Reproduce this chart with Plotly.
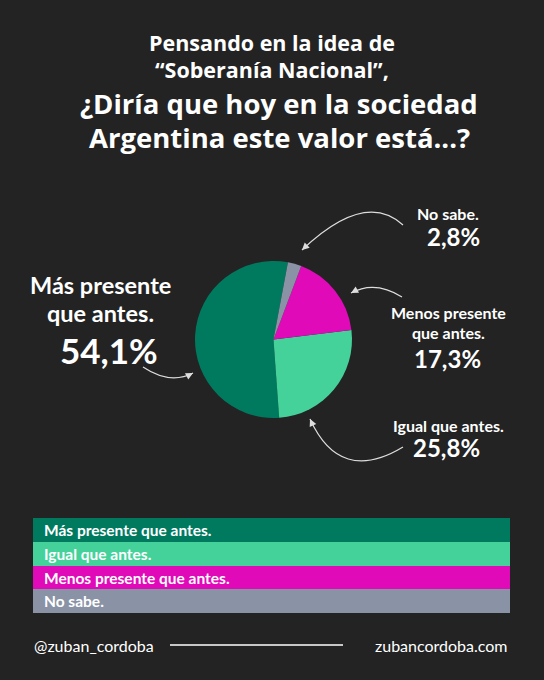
import plotly.graph_objects as go

categories = ["Más presente que antes.", "Igual que antes.", "Menos presente que antes.", "No sabe."]
values = [54.1, 25.8, 17.3, 2.8]
colors = ["#007a5f", "#45d29a", "#e10ab9", "#8a93a6"]
label_lines = [["Más presente", "que antes."], ["Igual que antes."], ["Menos presente", "que antes."], ["No sabe."]]

title_small = ["Pensando en la idea de", "“Soberanía Nacional”,"]
title_big = ["¿Diría que hoy en la sociedad", "Argentina este valor está...?"]

W, H = 544, 680
BG = "#232323"
FONT = "Lato"
TFONT = "Open Sans"

def pct(v):
    return f"{v:.1f}%".replace(".", ",")

fig = go.Figure()

# invisible trace to create pixel coordinate axes
fig.add_trace(go.Scatter(x=[0, W], y=[0, H], mode="markers", marker=dict(opacity=0), hoverinfo="skip", showlegend=False))

cx, cy, r = 273.5, 339.5, 78.5
# first slice (Más presente) starts clockwise at this angle from 12 o'clock
start_angle = 10.6 + sum(values[1:]) / sum(values) * 360
fig.add_trace(go.Pie(
    labels=categories, values=values, sort=False, direction="counterclockwise", rotation=start_angle,
    marker=dict(colors=colors, line=dict(width=0)), textinfo="none", hoverinfo="skip",
    showlegend=False,
    domain=dict(x=[(cx - r) / W, (cx + r) / W], y=[1 - (cy + r) / H, 1 - (cy - r) / H]),
))

ann = []
shapes = []

# title
for i, t in enumerate(title_small):
    ann.append(dict(x=272, y=[42, 69][i], text=f"<b>{t}</b>", showarrow=False, xanchor="center", yanchor="middle",
                    font=dict(family=TFONT, size=21.5, color="white")))
for i, t in enumerate(title_big):
    ann.append(dict(x=279, y=[103, 137][i], text=f"<b>{t}</b>", showarrow=False, xanchor="center", yanchor="middle",
                    font=dict(family=TFONT, size=27.5, color="white")))

# slice labels
ann.append(dict(x=100, y=285, text="<b>" + label_lines[0][0] + "</b>", showarrow=False, font=dict(family=FONT, size=23.5, color="white")))
ann.append(dict(x=100, y=313, text="<b>" + label_lines[0][1] + "</b>", showarrow=False, font=dict(family=FONT, size=23.5, color="white")))
ann.append(dict(x=109, y=350, text="<b>" + pct(values[0]) + "</b>", showarrow=False, font=dict(family=FONT, size=35, color="white")))
ann.append(dict(x=448, y=213, text="<b>" + label_lines[3][0] + "</b>", showarrow=False, font=dict(family=FONT, size=16, color="white")))
ann.append(dict(x=453, y=236, text="<b>" + pct(values[3]) + "</b>", showarrow=False, font=dict(family=FONT, size=24, color="white")))
ann.append(dict(x=448, y=312, text="<b>" + label_lines[2][0] + "</b>", showarrow=False, font=dict(family=FONT, size=16, color="white")))
ann.append(dict(x=448, y=332, text="<b>" + label_lines[2][1] + "</b>", showarrow=False, font=dict(family=FONT, size=16, color="white")))
ann.append(dict(x=447, y=358, text="<b>" + pct(values[2]) + "</b>", showarrow=False, font=dict(family=FONT, size=24, color="white")))
ann.append(dict(x=448, y=425, text="<b>" + label_lines[1][0] + "</b>", showarrow=False, font=dict(family=FONT, size=16, color="white")))
ann.append(dict(x=446, y=447, text="<b>" + pct(values[1]) + "</b>", showarrow=False, font=dict(family=FONT, size=24, color="white")))

# curved arrows: (start, control, tip)
curves = [
    ((403, 225), (365, 190), (302, 250)),
    ((402, 297), (375, 280), (351, 293)),
    ((403, 447), (340, 485), (310, 419)),
    ((143, 367), (170, 385), (193, 373)),
]
for (x0, y0), (qx, qy), (x1, y1) in curves:
    shapes.append(dict(type="path", xref="x", yref="y", path=f"M {x0},{y0} Q {qx},{qy} {x1},{y1}",
                       line=dict(color="#dddddd", width=1.2)))
    dx, dy = x1 - qx, y1 - qy
    n = (dx * dx + dy * dy) ** 0.5
    ann.append(dict(x=x1, y=y1, ax=x1 - dx / n * 4, ay=y1 - dy / n * 4, axref="x", ayref="y", xref="x", yref="y",
                    text="", showarrow=True, arrowhead=2, arrowsize=1.2, arrowwidth=1.2, arrowcolor="#dddddd"))

# legend bars
bar_top = [518, 542, 566, 589]
bar_bot = [542, 566, 589, 613]
for i, c in enumerate(categories):
    shapes.append(dict(type="rect", xref="x", yref="y", x0=33, x1=510, y0=bar_top[i], y1=bar_bot[i],
                       fillcolor=colors[i], line=dict(width=0), layer="above"))
    ann.append(dict(x=42, y=(bar_top[i] + bar_bot[i]) / 2, text=f"<b>{c}</b>", showarrow=False, xanchor="left",
                    yanchor="middle", font=dict(family=FONT, size=15.5, color="white")))

# footer
ann.append(dict(x=32, y=645, text="@zuban_cordoba", showarrow=False, xanchor="left", yanchor="middle",
                font=dict(family=FONT, size=16, color="white")))
ann.append(dict(x=510, y=645, text="zubancordoba.com", showarrow=False, xanchor="right", yanchor="middle",
                font=dict(family=FONT, size=16, color="white")))
shapes.append(dict(type="line", xref="x", yref="y", x0=170, x1=343, y0=645, y1=645, line=dict(color="white", width=1.5)))

for a in ann:
    a.setdefault("xref", "x")
    a.setdefault("yref", "y")

fig.update_layout(
    width=W, height=H, margin=dict(l=0, r=0, t=0, b=0),
    paper_bgcolor=BG, plot_bgcolor=BG,
    xaxis=dict(range=[0, W], visible=False, fixedrange=True),
    yaxis=dict(range=[H, 0], visible=False, fixedrange=True),
    annotations=ann, shapes=shapes, showlegend=False,
)

fig.write_html("out.html", config={"displayModeBar": False},
               post_script="document.body.style.margin='0';document.body.style.overflow='hidden';document.body.style.background='#232323';")
